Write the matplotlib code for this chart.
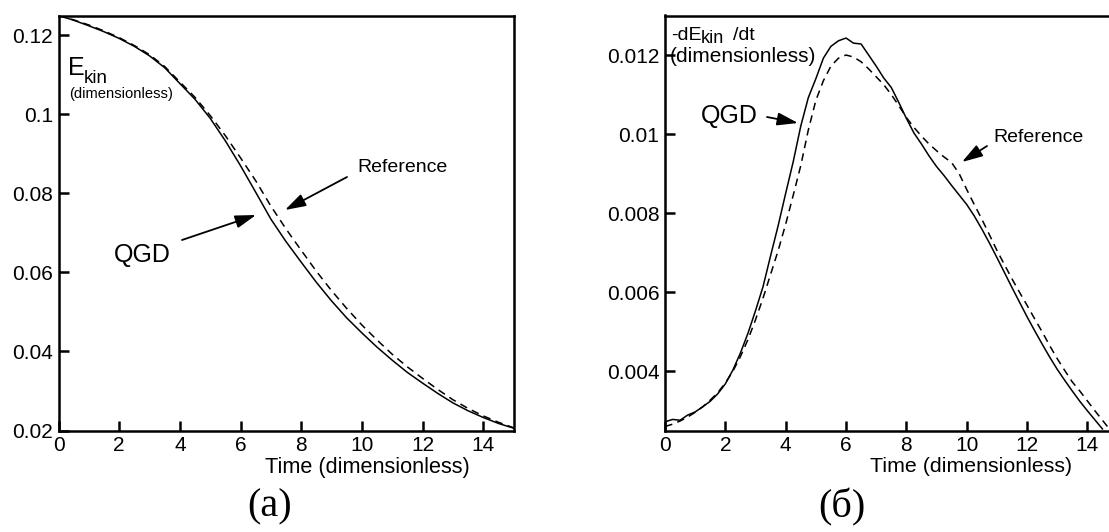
import numpy as np
import matplotlib
matplotlib.use("Agg")
import matplotlib.pyplot as plt
from matplotlib.ticker import FuncFormatter

plt.rcParams['font.family'] = ['Liberation Sans', 'DejaVu Sans']

# ---------------- data ----------------
t_e = np.arange(0, 15.01, 0.5)
ekin_qgd = [0.1250, 0.1238, 0.1224, 0.1209, 0.1192, 0.1172, 0.1148, 0.1118,
            0.1078, 0.1038, 0.0990, 0.0933, 0.0870, 0.0803, 0.0735, 0.0678,
            0.0626, 0.0575, 0.0528, 0.0485, 0.0447, 0.0411, 0.0378, 0.0347,
            0.0320, 0.0294, 0.0270, 0.0250, 0.0233, 0.0218, 0.0206]
ekin_ref = [0.1250, 0.1239, 0.1226, 0.1211, 0.1194, 0.1174, 0.1151, 0.1121,
            0.1082, 0.1043, 0.0997, 0.0946, 0.0890, 0.0832, 0.0768, 0.0710,
            0.0656, 0.0603, 0.0554, 0.0509, 0.0467, 0.0429, 0.0393, 0.0361,
            0.0332, 0.0304, 0.0278, 0.0256, 0.0237, 0.0221, 0.0207]

t_d_qgd = np.arange(0, 14.51, 0.25)
diss_qgd = [0.00272, 0.00278, 0.00276, 0.00289, 0.00297, 0.00310, 0.00324, 0.00343,
            0.00368, 0.00403, 0.00446, 0.00496, 0.00553, 0.00614, 0.00692, 0.00768,
            0.00850, 0.00930, 0.01020, 0.01092, 0.01140, 0.01192, 0.01222, 0.01236,
            0.01243, 0.01230, 0.01228, 0.01200, 0.01172, 0.01142, 0.01118, 0.01080,
            0.01040, 0.01003, 0.00975, 0.00945, 0.00918, 0.00895, 0.00870, 0.00846,
            0.00822, 0.00793, 0.00760, 0.00725, 0.00688, 0.00650, 0.00612, 0.00575,
            0.00538, 0.00503, 0.00469, 0.00436, 0.00405, 0.00377, 0.00350, 0.00324,
            0.00300, 0.00277, 0.00254]
t_d_ref = np.arange(0, 14.76, 0.25)
diss_ref = [0.00260, 0.00266, 0.00274, 0.00284, 0.00296, 0.00310, 0.00327, 0.00346,
            0.00370, 0.00400, 0.00437, 0.00480, 0.00530, 0.00585, 0.00645, 0.00705,
            0.00772, 0.00845, 0.00920, 0.01010, 0.01085, 0.01135, 0.01172, 0.01192,
            0.01200, 0.01195, 0.01183, 0.01165, 0.01145, 0.01125, 0.01100, 0.01072,
            0.01042, 0.01017, 0.00995, 0.00975, 0.00958, 0.00942, 0.00928, 0.00900,
            0.00860, 0.00822, 0.00785, 0.00746, 0.00706, 0.00670, 0.00634, 0.00600,
            0.00567, 0.00533, 0.00500, 0.00465, 0.00432, 0.00402, 0.00373, 0.00350,
            0.00325, 0.00300, 0.00276, 0.00252]

xticks = [0, 2, 4, 6, 8, 10, 12, 14]
yticks_a = [0.02, 0.04, 0.06, 0.08, 0.10, 0.12]
yticks_b = [0.004, 0.006, 0.008, 0.010, 0.012]

# ---------------- figure ----------------
W, H = 1109, 532
fig = plt.figure(figsize=(W / 100, H / 100), dpi=100)

def px(x, y):
    return x / W, 1 - y / H

ax1 = fig.add_axes([58.5 / W, 1 - 430.5 / H, 455 / W, 415 / H])
ax2 = fig.add_axes([665 / W, 1 - 430.5 / H, 452.5 / W, 415 / H])

fmt = FuncFormatter(lambda v, p: ('%.3f' % v).rstrip('0').rstrip('.') if v != 0 else '0')

for ax in (ax1, ax2):
    for s in ax.spines.values():
        s.set_linewidth(1.8)
    ax.tick_params(direction='in', length=7, width=1.8, labelsize=15,
                   top=False, right=False)
    ax.tick_params(axis='x', pad=4)
    ax.tick_params(axis='y', pad=4)
    ax.set_xticks(xticks)
    ax.yaxis.set_major_formatter(fmt)

ax1.plot(t_e, ekin_qgd, color='k', lw=1.1)
ax1.plot(t_e, ekin_ref, color='k', lw=1.1, dashes=(5, 3.5))
ax1.set_xlim(0, 15)
ax1.set_ylim(0.02, 0.125)
ax1.set_yticks(yticks_a)

ax2.plot(t_d_qgd, diss_qgd, color='k', lw=1.1)
ax2.plot(t_d_ref, diss_ref, color='k', lw=1.1, dashes=(5, 3.5))
ax2.set_xlim(0, 15)
ax2.set_ylim(0.0025, 0.013)
ax2.set_yticks(yticks_b)

# axis titles
fig.text(*px(367, 467), 'Time (dimensionless)', fontsize=15.6, ha='center', va='center')
fig.text(*px(971, 467), 'Time (dimensionless)', fontsize=15.4, ha='center', va='center')

# left panel labels
fig.text(*px(68, 75), 'E', fontsize=18, ha='left', va='baseline')
fig.text(*px(83.5, 83), 'kin', fontsize=13.5, ha='left', va='baseline')
fig.text(*px(69, 94), '(dimensionless)', fontsize=10.6, ha='left', va='center')
fig.text(*px(357, 168), 'Reference', fontsize=14, ha='left', va='center')
fig.text(*px(114, 255), 'QGD', fontsize=18, ha='left', va='center')

# right panel labels
fig.text(*px(671, 40), '-dE', fontsize=14, ha='left', va='baseline')
fig.text(*px(701, 43), 'kin', fontsize=13, ha='left', va='baseline')
fig.text(*px(733, 40), '/dt', fontsize=14, ha='left', va='baseline')
fig.text(*px(670, 57), '(dimensionless)', fontsize=15, ha='left', va='center')
fig.text(*px(701, 116), 'QGD', fontsize=18, ha='left', va='center')
fig.text(*px(993, 138), 'Reference', fontsize=14, ha='left', va='center')

# arrows
aprops = dict(arrowstyle='-|>,head_length=0.9,head_width=0.28', color='k', lw=1.3,
              shrinkA=0, shrinkB=0, mutation_scale=14)
for (x0, y0, x1, y1) in [(182, 240, 256, 215), (347, 177, 285, 210),
                         (767, 117, 798, 123), (987, 146, 962, 162)]:
    fig.add_artist(matplotlib.patches.FancyArrowPatch(
        px(x0, y0), px(x1, y1), transform=fig.transFigure, **aprops))

# subplot captions
fig.text(*px(270, 507), '(a)', fontsize=29, ha='center', va='center',
         family=['Liberation Serif', 'DejaVu Serif'])
fig.text(*px(842, 507), '(б)', fontsize=29, ha='center', va='center',
         family=['Liberation Serif', 'DejaVu Serif'])

fig.savefig('out.png', dpi=100)
